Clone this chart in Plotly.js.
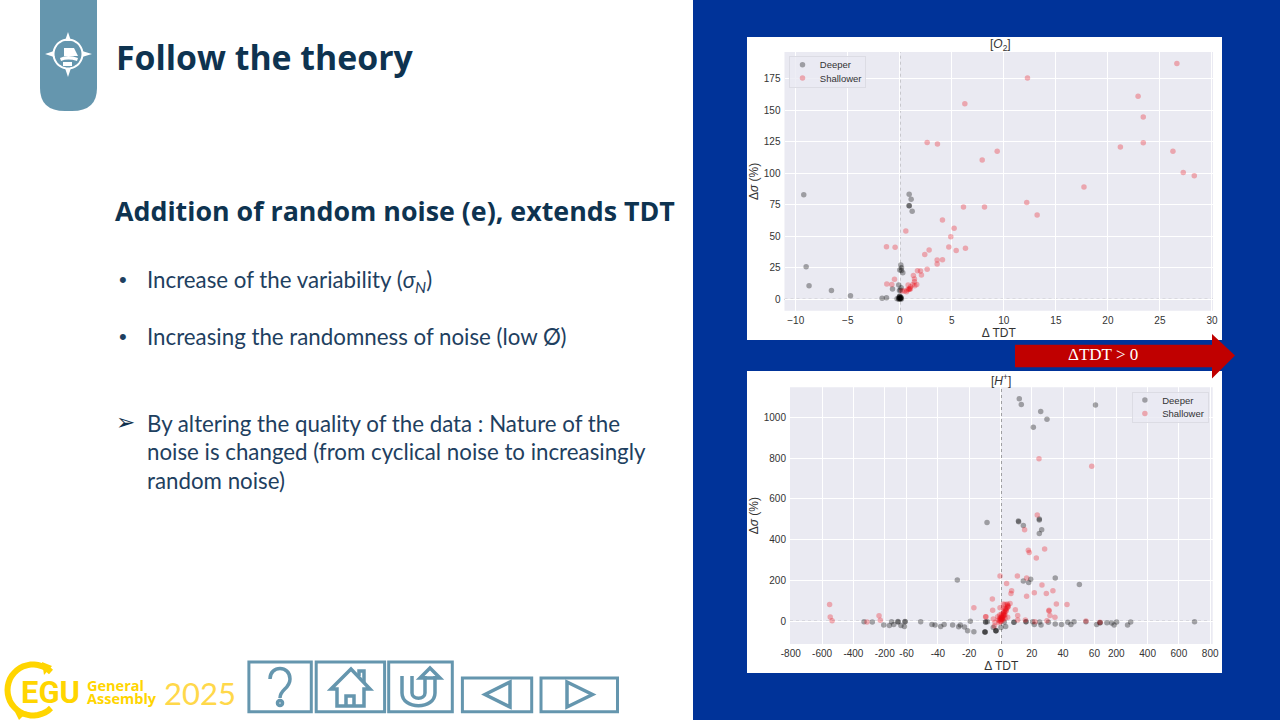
<!DOCTYPE html>
<html><head><meta charset="utf-8">
<script src="https://cdn.plot.ly/plotly-3.0.1.min.js"></script>
<style>html,body{margin:0;padding:0;background:#fff}#g{width:1280px;height:720px}</style>
</head><body><div id="g"></div>
<script>
// ---------- [O2] panel ----------
const o2DeeperX=[-9.23,-9.0,-8.72,-6.57,-4.74,-1.7,-1.28,0.9,1.09,0.9,0.9,1.19,0.1,0.16,0,0.16,0.29,-0.7,-0.1,0.13,-0.03,0.06,-0.26,-0.1,0,0.13,0.06,-0.06,0,0.16,-0.1,0.03,0.1,0,-0.03,0.06];
const o2DeeperY=[83.1,25.9,10.9,7.1,2.9,0.8,1.3,83.4,79.4,74.4,74.4,69.9,27.3,25.2,23.3,23,21.2,8.2,11.4,9.3,7.1,7.4,0.5,1.3,2.6,1.3,0.3,0.3,0.8,0.3,0.3,0.6,1.5,1.8,2.2,0.9];
const o2ShallowX=[-1.28,-0.45,0.58,-0.51,-1.25,-0.77,4.1,5.22,4.9,6.12,8.14,4.71,5.42,6.31,2.82,2.4,3.59,3.59,4.1,2.63,1.7,1.99,2.08,1.31,1.41,1.41,1.63,1.25,1.44,0.8,1.03,1.03,0.87,0.7,0.45,0.64,0.22,0.9,0.95,2.63,3.62,6.25,7.92,12.27,9.36,26.63,22.9,23.4,23.4,21.2,26.25,27.24,28.3,17.7,12.2,13.2];
const o2ShallowY=[41.8,41.3,54.3,15.9,12.2,11.9,63,56.4,49.8,73.3,73.3,41.6,38.7,40.5,39.2,35.7,31.2,28,31.5,24,22.8,22.5,19.3,19,16.2,14,11.9,11.9,10.9,11.4,10,8.2,8.2,7.4,6.6,6.1,6.6,7.8,8.6,124.6,123.3,155.3,110.6,175.7,117.5,187.2,161.2,144.8,124.4,121,117.5,100.8,98.2,89.2,77,66.9];
const o2XTickVals=[-10,-5,0,5,10,15,20,25,30];
const o2XTickText=['\u221210','\u22125','0','5','10','15','20','25','30'];
const o2YTickVals=[0,25,50,75,100,125,150,175];

// ---------- [H+] panel ----------
const hDeeperX=[-332,-279,-206,-170,-156,-142,-115,-115,-96,-74,-70,-70,-51,-43.8,-41.8,-38.2,-36,-30.6,-27.6,-26.7,-25.7,-23,-21,-19.3,-17,-9.9,-9.9,-9.9,-9.5,-9.5,-8.6,11.6,14.6,24.8,26.3,24.8,14.6,18,19.3,35,50.4,700,292,272,202,186,170,140,96,96,74,54.6,47,45,43,39,35,30.6,25.9,25,21.6,20.6,16.3,16.3,8.6,8.6,3.3,2.4,0.3,-2.9,-2.9,-2.9,-4.6,-8.4,12,13.3,67,25.7,29.7,21,24.8,11.4];
const hDeeperY=[-2,-3,-18,-20,-2,-15,-3,-1,-20,-25,-2,-1,-2,-16,-18,-25,-16,-18,203,-26,-18,-28,-46,0,-51,-52,-52,-52,-3,-3,484,488,470,431,449,497,198,190,206,212,180,-2,-3,-18,-3,-18,-8,-6.5,-6.5,-6.5,-16,-2,-2,-16,-5,-16,-13,-5,-18,-3,-16,-2,-2,-2,-5,-5,-25,-3,-30,-46,-46,-46,-30,-2,1091,1063,1060,1029,990,951,501,492];
const hShallowX=[-552,-548,-536,-313,-236,-228,-17,-9.5,15.4,17.8,18.4,28.2,22.9,-0.3,10.8,3.9,16.7,26.5,21.6,29.3,33.5,16.7,7.1,6.7,-5.2,35.7,42.5,31,31,31.6,29.7,34.8,11,9.5,11,-5,-9.3,-4.6,-0.3,1.8,2.9,4.6,6.1,1.8,3.3,4.6,2.4,1.8,2.9,0.7,-0.3,-1.4,0.3,-1,1.2,-0.5,-1.8,1.8,2.9,4.6,-3.5,-3.9,0.7,0,0.3,0.7,-0.5,1.2,15.9,54.6,96,22,24.6,58.3,23.5,-0.3,1,1,2.2,2.2,3.5,3.5,4.8,4.8,1.6,2.9,4.2,0.4,1.5,2.6,3.8];
const hShallowY=[82,21,3,-3,28,5,67,23,449,348,338,355,310,222,222,186,212,178,140,137,150,123,150,137,109,85,82,54,51,29,3,20,29,57,7,54,23,11,67,85,82,80,88,64,59,69,47,36,31,23,15,7,-2,-7,10,31,23,7,15,20,-5,-23,36,20,13,10,7,20,7,2,-4,-2,797,760,521,0,15,17,30,33,50,53,75,72,40,60,85,5,25,42,62];
const hXTickVals=[-800,-600,-400,-200,-60,-40,-20,0,20,40,60,200,400,600,800];
const hYTickVals=[0,200,400,600,800,1000];

// Non-linear x scale of the [H+] panel: linear inside +-60, compressed to +-200, linear beyond
function warp(v){
  const a=Math.abs(v),s=Math.sign(v);
  if(a<=60) return s*a/20;
  if(a<=200) return s*(3+(a-60)/140*0.7);
  return s*(3.7+(a-200)/200);
}

// ---------- page helpers ----------
const px=x=>x/1280, py=y=>1-y/720;
const P=d=>d.replace(/(-?[\d.]+)[ ,]+(-?[\d.]+)/g,(m,a,b)=>px(+a).toFixed(5)+','+py(+b).toFixed(5));
const S=(d,line,fill)=>({type:'path',xref:'paper',yref:'paper',layer:'below',path:P(d),line:line||{width:0},fillcolor:fill||'rgba(0,0,0,0)'});
const arc=(cx,cy,r,a0,a1,n=24)=>{let s='';for(let i=0;i<=n;i++){const t=(a0+(a1-a0)*i/n)*Math.PI/180;s+=(i?'L':'M')+(cx+r*Math.cos(t)).toFixed(1)+' '+(cy+r*Math.sin(t)).toFixed(1);}return s;};
const T=(text,x,y,size,color,family,anchor='left',extra={})=>Object.assign({text,x:px(x),y:py(y),xref:'paper',yref:'paper',showarrow:false,xanchor:anchor,yanchor:'middle',font:{size,color,family},borderpad:0},extra);

const STEEL='#6596AE', GOLD='#FFD500', NAVY='#0E3350', BODY='#1E4060', SANS='Liberation Sans, Arial, sans-serif', BODYF='Lato, sans-serif', HEADF='Open Sans, sans-serif';
const btn={color:STEEL,width:3};
const icon={color:STEEL,width:3.5};
const PANEL='#EAEAF2';

const shapes=[
  S('M693 0L1280 0L1280 720L693 720Z',null,'#003399'),
  S('M747 37L1222 37L1222 340L747 340Z',null,'#ffffff'),
  S('M747 371L1222 371L1222 673L747 673Z',null,'#ffffff'),
  S('M784.5 52L1213 52L1213 310.7L784.5 310.7Z',null,PANEL),
  S('M790 387.3L1212.7 387.3L1212.7 644L790 644Z',null,PANEL),
  S('M1015 344.7L1212 344.7L1212 334L1235 355.5L1212 378.5L1212 367.3L1015 367.3Z',null,'#C00000'),
  // tab and compass
  S('M40 0L97 0L97 88Q97 111 72 111L65 111Q40 111 40 88Z',null,STEEL),
  S(arc(68,54,14.5,0,360,40)+'Z',{color:'#fff',width:2}),
  S('M68 32L71 41L65 41ZM68 77L71 68L65 68ZM45 54L54 51L54 57ZM92 54L82 51L82 57Z',null,'#fff'),
  S('M60 58Q68 54 78 58L77 61Q68 58 61 61Z',null,'#fff'),
  S('M64 48L74 48L78 56L64 56Z',null,'#fff'),
  S('M63 62L72 62L72 66L63 66Z',null,'#fff'),
  // EGU ring
  S(arc(33,690,25.5,-45,-315,32),{color:GOLD,width:6}),
  S('M42 662L52 666L44 675Z',null,GOLD),
  S('M15 712L25 714L19 720Z',null,GOLD),
  // buttons
  S('M248.9 662L311.3 662L311.3 711.7L248.9 711.7Z',btn),
  S('M316.2 662L384.6 662L384.6 711.7L316.2 711.7Z',btn),
  S('M388.7 662L452.3 662L452.3 711.7L388.7 711.7Z',btn),
  S('M462.4 678L531.7 678L531.7 711.7L462.4 711.7Z',btn),
  S('M541 678L617.5 678L617.5 711.7L541 711.7Z',btn),
  // ? icon
  S('M270 679C270 665 290 665 290 679C290 689 280 689 280 698',icon),
  S(arc(280,703,2.5,0,360,16)+'Z',icon),
  // home icon
  S('M331 689L351 669L370 689L364 689L364 706L337 706L337 689Z',icon),
  S('M346 706L346 696L354 696L354 706M359 676L359 671L364 671L364 683',icon),
  // U-turn icon
  S('M402 676L402 693C402 710 435 710 435 693L435 676',icon),
  S('M412 676L412 693C412 700 425 700 425 693L425 676',icon),
  S('M420 678L430 668L440 678L435 678L425 678Z',icon),
  // prev / next
  S('M510 682L510 707L485 694.5Z',icon),
  S('M567 682L567 707L592.5 694.5Z',icon),
  // zero reference lines
  {type:'line',xref:'x',yref:'y',layer:'below',x0:0,x1:0,y0:-9,y1:196.4,line:{color:'#707070',width:1,dash:'dot'}},
  {type:'line',xref:'x',yref:'y',layer:'below',x0:-11.08,x1:30.1,y0:0,y1:0,line:{color:'#707070',width:1,dash:'dot'}},
  {type:'line',xref:'x2',yref:'y2',layer:'below',x0:0.02,x1:0.02,y0:-111,y1:1147,line:{color:'#707070',width:1,dash:'dot'}},
  {type:'line',xref:'x2',yref:'y2',layer:'below',x0:-6.725,x1:6.78,y0:0,y1:0,line:{color:'#707070',width:1,dash:'dot'}}
];

const annotations=[
  T('<b>Follow the theory</b>',114.5,57,33.8,NAVY,HEADF),
  T('<b>Addition of random noise (e), extends TDT</b>',113.5,210,26.8,NAVY,HEADF),
  T('\u2022',118,280,22,BODY,SANS),
  T('Increase of the variability (<i>\u03c3<sub>N</sub></i>)',146,281,22.3,BODY,BODYF),
  T('\u2022',118,336,22,BODY,SANS),
  T('Increasing the randomness of noise (low \u00d8)',146,336,22.3,BODY,BODYF),
  T('\u27a2',115,422,23,'#10304c','DejaVu Sans'),
  T('By altering the quality of the data : Nature of the',146,423,22.3,BODY,BODYF),
  T('noise is changed (from cyclical noise to increasingly',146,451,22.3,BODY,BODYF),
  T('random noise)',146,480,22.3,BODY,BODYF),
  T('<b>EGU</b>',20,692,31,GOLD,'Roboto, sans-serif'),
  T('<b>General</b>',86,685,14.5,GOLD,'Open Sans, sans-serif'),
  T('<b>Assembly</b>',86,698,14.5,GOLD,'Open Sans, sans-serif'),
  T('2025',163,693,31,'#FFD84A','Lato, sans-serif'),
  T('\u0394TDT > 0',1103,354,17,'#ffffff','Liberation Serif, serif','center'),
  T('[<i>O</i><sub>2</sub>]',1000,45,12,'#333','Liberation Sans','center'),
  T('[<i>H</i><sup>+</sup>]',1001,380,12,'#333','Liberation Sans','center')
];

const tf={family:SANS,size:10,color:'#333'};
const titleFont={family:SANS,size:12,color:'#333'};
const GRAY='rgba(0,0,0,0.33)', RED='rgba(235,10,20,0.3)';
const mk=(c)=>({size:5.5,color:c,line:{width:0}});
const traces=[
  {type:'scatter',mode:'markers',name:'Deeper',x:o2DeeperX,y:o2DeeperY,xaxis:'x',yaxis:'y',marker:mk(GRAY),legend:'legend'},
  {type:'scatter',mode:'markers',name:'Shallower',x:o2ShallowX,y:o2ShallowY,xaxis:'x',yaxis:'y',marker:mk(RED),legend:'legend'},
  {type:'scatter',mode:'markers',name:'Deeper',x:hDeeperX.map(warp),y:hDeeperY,customdata:hDeeperX,xaxis:'x2',yaxis:'y2',marker:mk(GRAY),legend:'legend2'},
  {type:'scatter',mode:'markers',name:'Shallower',x:hShallowX.map(warp),y:hShallowY,customdata:hShallowX,xaxis:'x2',yaxis:'y2',marker:mk(RED),legend:'legend2'}
];

const ax=o=>Object.assign({showgrid:true,gridcolor:'#ffffff',gridwidth:1,zeroline:false,showline:false,ticks:'',tickfont:tf,tickmode:'array',automargin:false},o);
const legendBase={font:{family:SANS,size:9.5,color:'#333'},bgcolor:'rgba(234,234,242,0.8)',bordercolor:'#dcdce4',borderwidth:1,tracegroupgap:0,itemsizing:'trace',itemwidth:30};
const layout={
  width:1280,height:720,margin:{l:0,r:0,t:0,b:0},paper_bgcolor:'#ffffff',plot_bgcolor:PANEL,showlegend:true,hovermode:false,
  xaxis:ax({domain:[px(784.5),px(1213)],range:[-11.08,30.1],tickvals:o2XTickVals,ticktext:o2XTickText,anchor:'y',ticklabelstandoff:2,
    title:{text:'\u0394 TDT',font:titleFont,standoff:0}}),
  yaxis:ax({domain:[py(310.7),py(52)],range:[-9,196.4],tickvals:o2YTickVals,ticktext:o2YTickVals.map(String),anchor:'x',ticklabelstandoff:3,
    title:{text:'\u0394<i>\u03c3</i> (%)',font:titleFont,standoff:2}}),
  xaxis2:ax({domain:[px(790),px(1212.7)],range:[-6.725,6.78],tickvals:hXTickVals.map(warp),ticktext:hXTickVals.map(String),anchor:'y2',ticklabelstandoff:2,
    title:{text:'\u0394 TDT',font:titleFont,standoff:1}}),
  yaxis2:ax({domain:[py(644),py(387.3)],range:[-111,1147],tickvals:hYTickVals,ticktext:hYTickVals.map(String),anchor:'x2',ticklabelstandoff:3,
    title:{text:'\u0394<i>\u03c3</i> (%)',font:titleFont,standoff:2}}),
  legend:Object.assign({},legendBase,{x:px(789.3),y:py(56.3),xanchor:'left',yanchor:'top'}),
  legend2:Object.assign({},legendBase,{x:px(1131.7),y:py(391.7),xanchor:'left',yanchor:'top'}),
  shapes,annotations
};
// compact legend spacing, which the library's options cannot reach
const legendBoxes=[['legend',789.3,56.3],['legend2',1131.7,391.7]];
function tightenLegends(){
  legendBoxes.forEach(([cls,x,y])=>{
    document.querySelectorAll('.infolayer > g.'+cls).forEach(g=>{
      g.setAttribute('transform',`translate(${x},${y})`);
      const bg=g.querySelector('rect.bg');
      if(bg){bg.setAttribute('width',76);bg.setAttribute('height',30.5);}
      g.querySelectorAll('g.traces').forEach((t,i)=>{
        t.setAttribute('transform',`translate(0,${8.4+i*13.4})`);
        t.querySelectorAll('text').forEach(tx=>{tx.setAttribute('x',30.5);tx.setAttribute('text-anchor','start');
          tx.querySelectorAll('tspan').forEach(s=>s.setAttribute('x',30.5));});
        t.querySelectorAll('g.legendpoints path').forEach(p=>p.setAttribute('transform','translate(13.2,0)'));
      });
    });
  });
}
Plotly.newPlot('g',traces,layout,{displayModeBar:false,staticPlot:true}).then(()=>{
  tightenLegends();
  setTimeout(tightenLegends,0);
  setTimeout(tightenLegends,60);
  setTimeout(tightenLegends,300);
});
</script></body></html>
